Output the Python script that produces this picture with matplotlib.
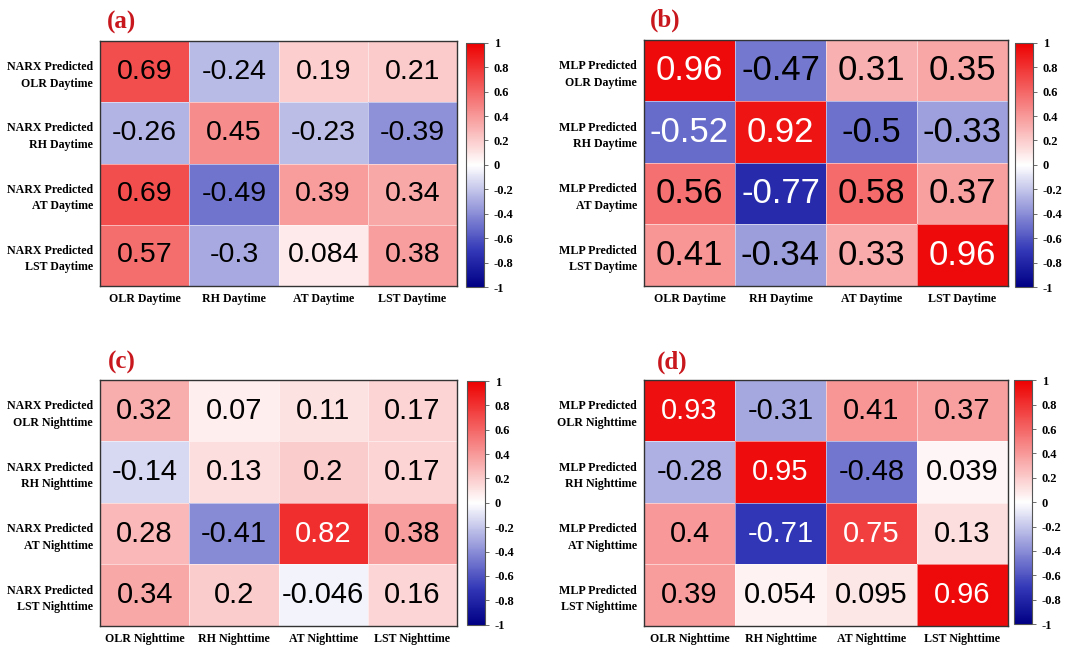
import matplotlib
matplotlib.use("Agg")
import matplotlib.pyplot as plt
import numpy as np
from matplotlib.colors import LinearSegmentedColormap

# Correlation values, row = predicted variable, column = observed variable
narx_day = [[0.69, -0.24, 0.19, 0.21],
            [-0.26, 0.45, -0.23, -0.39],
            [0.69, -0.49, 0.39, 0.34],
            [0.57, -0.3, 0.084, 0.38]]
mlp_day = [[0.96, -0.47, 0.31, 0.35],
           [-0.52, 0.92, -0.5, -0.33],
           [0.56, -0.77, 0.58, 0.37],
           [0.41, -0.34, 0.33, 0.96]]
narx_night = [[0.32, 0.07, 0.11, 0.17],
              [-0.14, 0.13, 0.2, 0.17],
              [0.28, -0.41, 0.82, 0.38],
              [0.34, 0.2, -0.046, 0.16]]
mlp_night = [[0.93, -0.31, 0.41, 0.37],
             [-0.28, 0.95, -0.48, 0.039],
             [0.4, -0.71, 0.75, 0.13],
             [0.39, 0.054, 0.095, 0.96]]

variables = ["OLR", "RH", "AT", "LST"]
cbar_ticks = [-1, -0.8, -0.6, -0.4, -0.2, 0, 0.2, 0.4, 0.6, 0.8, 1]

cmap = LinearSegmentedColormap.from_list(
    "redblue",
    [(0.0, (0.0, 0.0, 0.52)),
     (0.15, (0.2, 0.22, 0.72)),
     (0.5, (1.0, 1.0, 1.0)),
     (1.0, (0.93, 0.0, 0.0))])

serif = "Liberation Serif"
sans = "Liberation Sans"

fig = plt.figure(figsize=(10.7, 6.48), dpi=100)

panels = [
    ("(a)", narx_day, "NARX", "Daytime", [0.0935, 0.5586, 0.3336, 0.378],
     [0.4355, 0.557, 0.0168, 0.377], (0.114, 0.966), 20.5),
    ("(b)", mlp_day, "MLP", "Daytime", [0.6019, 0.5586, 0.340, 0.380],
     [0.9486, 0.557, 0.0168, 0.377], (0.622, 0.968), 25),
    ("(c)", narx_night, "NARX", "Nighttime", [0.0935, 0.034, 0.3336, 0.3796],
     [0.4364, 0.036, 0.0168, 0.376], (0.114, 0.441), 21),
    ("(d)", mlp_night, "MLP", "Nighttime", [0.6019, 0.034, 0.340, 0.3796],
     [0.9477, 0.037, 0.0168, 0.376], (0.628, 0.441), 21),
]

for tag, data, model, period, rect, cbrect, tpos, fsize in panels:
    vals = np.array(data)
    ax = fig.add_axes(rect)
    mesh = ax.pcolormesh(vals, cmap=cmap, vmin=-1, vmax=1,
                         edgecolors=(1, 1, 1, 0.5), linewidth=0.6)
    ax.set_xlim(0, 4)
    ax.set_ylim(4, 0)
    for i in range(4):
        for j in range(4):
            v = vals[i, j]
            col = "white" if (v > 0.7 or v < -0.51) else "black"
            ax.text(j + 0.5, i + 0.5, f"{v:g}", ha="center", va="center",
                    fontsize=fsize, family=sans, color=col)
    ax.set_xticks(np.arange(4) + 0.5)
    ax.set_xticklabels([f"{v} {period}" for v in variables],
                       family=serif, fontweight="bold", fontsize=8.6)
    ax.set_yticks(np.arange(4) + 0.5)
    ax.set_yticklabels([f"{model} Predicted\n{v} {period}" for v in variables],
                       family=serif, fontweight="bold", fontsize=8.6,
                       ha="right", linespacing=1.5)
    ax.tick_params(length=0, pad=5)
    for s in ax.spines.values():
        s.set_color("#333333")
        s.set_linewidth(1.0)

    cax = fig.add_axes(cbrect)
    cb = fig.colorbar(mesh, cax=cax, ticks=cbar_ticks)
    cb.ax.set_yticklabels([f"{t:g}" for t in cbar_ticks],
                          family=serif, fontweight="bold", fontsize=9)
    cb.ax.tick_params(length=3, width=0.6, color="#555555", pad=4)
    cb.outline.set_edgecolor("#555555")
    cb.outline.set_linewidth(0.8)

    fig.text(tpos[0], tpos[1], tag, ha="center", va="center", family=serif,
             fontweight="bold", fontsize=18, color="#c8181e")

fig.savefig("out.png", dpi=100)
